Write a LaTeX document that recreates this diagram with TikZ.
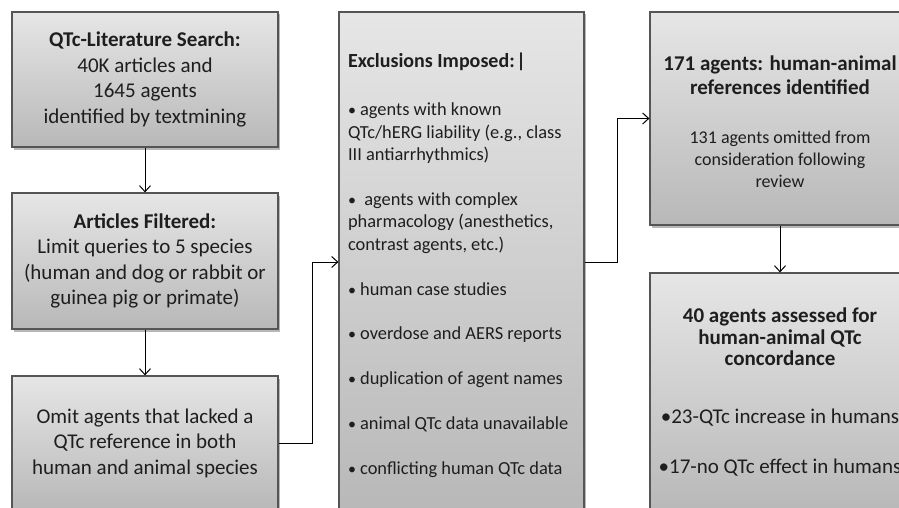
\documentclass[tikz,border=0pt]{standalone}
\usepackage{fontspec}
\setmainfont{Carlito}
\usetikzlibrary{arrows.meta,shadows}
\definecolor{boxtop}{RGB}{230,230,230}
\definecolor{boxbot}{RGB}{184,184,184}
\definecolor{boxline}{RGB}{85,85,85}
\definecolor{txt}{RGB}{30,30,30}
\newcommand\bt[1]{{\fontsize{21}{24}\selectfont\bfseries #1}}
\newcommand\bul{{\fontsize{16}{16}\selectfont •}}
\begin{document}
\begin{tikzpicture}[x=1pt,y=-1pt,
  flowbox/.style={draw=boxline, line width=1.2pt, top color=boxtop, bottom color=boxbot,
    drop shadow={shadow xshift=2pt, shadow yshift=-2.5pt, opacity=0.4, fill=black!70},
    text=txt, inner sep=4pt},
  plaintext/.style={text=txt, inner sep=0pt},
  arr/.style={draw=black, line width=1pt, -{Straight Barb[length=6pt,width=11pt]}},
  big/.style={font=\fontsize{21}{25.5}\selectfont, align=center},
  mid/.style={font=\fontsize{18.4}{22.4}\selectfont}]
\useasboundingbox (0,0) rectangle (899,508);
\clip (0,0) rectangle (899,508);
\fill[white] (0,0) rectangle (899,508);

\node[flowbox, big, minimum width=266pt, minimum height=135pt] (b1) at (145,79.5)
  {\textbf{QTc-Literature Search:}\\40K articles and\\1645 agents\\identified by textmining};
\node[flowbox, big, minimum width=266pt, minimum height=136pt] (b2) at (145,261)
  {\textbf{Articles Filtered:}\\Limit queries to 5 species\\(human and dog or rabbit or\\guinea pig or primate)};
\node[flowbox, big, minimum width=266pt, minimum height=134pt] (b3) at (145,443)
  {Omit agents that lacked a\\QTc reference in both\\human and animal species};

\node[flowbox, minimum width=245pt, minimum height=500pt] (b4) at (461.5,262) {};
\node[plaintext, mid, align=flush left, text width=227pt] (b4t) at (461.5,265)
  {{\fontsize{20}{24}\selectfont\bfseries Exclusions Imposed:\kern1.5pt|}\\[26.5pt]
   \bul\ agents with known\\QTc/hERG liability (e.g., class\\III antiarrhythmics)\\[22.4pt]
   \bul\ \ agents with complex\\pharmacology (anesthetics,\\contrast agents, etc.)\\[22.4pt]
   \bul\ human case studies\\[22.4pt]
   \bul\ overdose and AERS reports\\[22.4pt]
   \bul\ duplication of agent names\\[22.4pt]
   \bul\ animal QTc data unavailable\\[22.4pt]
   \bul\ conflicting human QTc data};

\node[flowbox, minimum width=260pt, minimum height=213pt] (b5) at (780,118.5) {};
\node[plaintext, font=\fontsize{18}{22}\selectfont, align=center] (b5t) at (780,122)
  {\bt{171 agents: human-animal}\\[2pt]\bt{references identified}\\[27pt]
   131 agents omitted from\\consideration following\\review};

\node[flowbox, font=\fontsize{21}{21.5}\selectfont, align=center, minimum width=260pt, minimum height=239pt] (b6) at (780,392.5)
  {\textbf{40 agents assessed for}\\\textbf{human-animal QTc}\\\textbf{concordance}\\[36.5pt]
   •23-QTc increase in humans\\[28.5pt]•17-no QTc effect in humans};

\draw[arr] (b1.south) -- (b2.north);
\draw[arr] (b2.south) -- (b3.north);
\draw[arr] (b3.east) -- ++(34,0) |- (b4.west);
\draw[arr] (b4.east) -- ++(33,0) |- (b5.west);
\draw[arr] (b5.south) -- (b6.north);
\end{tikzpicture}
\end{document}
